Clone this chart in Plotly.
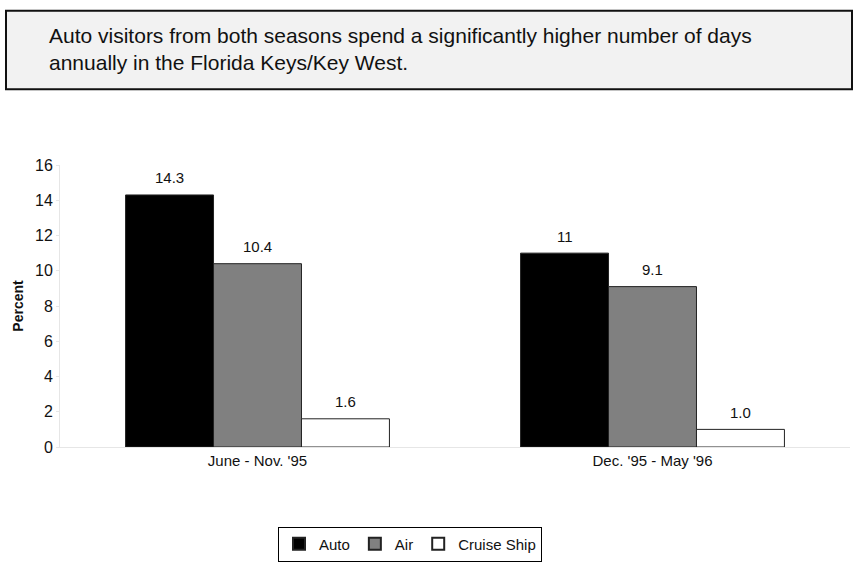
import plotly.graph_objects as go

categories = ["June - Nov. '95", "Dec. '95 - May '96"]
series_names = ["Auto", "Air", "Cruise Ship"]
auto_vals = [14.3, 11.0]
air_vals = [10.4, 9.1]
cruise_vals = [1.6, 1.0]
auto_labels = ["14.3", "11"]
air_labels = ["10.4", "9.1"]
cruise_labels = ["1.6", "1.0"]
y_ticks = [0, 2, 4, 6, 8, 10, 12, 14, 16]

colors = ["#000000", "#808080", "#ffffff"]
W, H = 854, 565
L, R, T, B = 60, 4, 165, 113
pw, ph = W - L - R, H - T - B
BARGAP = 0.332

def px_x(x):
    return (x - L) / pw

def px_y(y):
    return (H - B - y) / ph

all_vals = [auto_vals, air_vals, cruise_vals]
all_labels = [auto_labels, air_labels, cruise_labels]

fig = go.Figure()
for name, vals, c in zip(series_names, all_vals, colors):
    fig.add_trace(go.Bar(
        name=name, x=categories, y=vals,
        marker=dict(color=c, line=dict(color="#222222", width=1)),
    ))

annotations = []
bw = (1 - BARGAP) / len(series_names)
for i, (vals, labels) in enumerate(zip(all_vals, all_labels)):
    for j, (v, t) in enumerate(zip(vals, labels)):
        annotations.append(dict(
            xref="x", yref="y", x=j + (i - 1) * bw, y=v, text=t,
            showarrow=False, yshift=17, yanchor="middle", xanchor="center",
            font=dict(size=15, color="#111111")))

annotations.append(dict(
    xref="paper", yref="paper", x=px_x(47), y=px_y(47),
    xanchor="left", yanchor="middle", align="left", showarrow=False,
    text="Auto visitors from both seasons spend a significantly higher number of days<br>annually in the Florida Keys/Key West.",
    font=dict(size=21, color="#111111")))

fig.update_layout(
    width=W, height=H,
    margin=dict(l=L, r=R, t=T, b=B),
    paper_bgcolor="white", plot_bgcolor="white",
    font=dict(family="Liberation Sans, Arial, sans-serif", size=15, color="#111111"),
    barmode="group", bargap=BARGAP, bargroupgap=0,
    showlegend=True,
    legend=dict(orientation="h", x=px_x(410), xanchor="center", y=px_y(533), yanchor="top",
                bordercolor="#000000", borderwidth=1, font=dict(size=15),
                itemsizing="constant", traceorder="normal", itemwidth=30,
                tracegroupgap=0),
    xaxis=dict(showline=True, linecolor="#e6e6e6", linewidth=1, showgrid=False,
               ticks="", tickfont=dict(size=15), range=[-0.5, 1.5]),
    yaxis=dict(range=[0, 16], tickvals=y_ticks, showgrid=False, zeroline=False,
               showline=True, linecolor="#e6e6e6", linewidth=1,
               ticks="outside", ticklen=3, tickcolor="#e6e6e6",
               tickfont=dict(size=16),
               title=dict(text="<b>Percent</b>", font=dict(size=14), standoff=8)),
    shapes=[dict(type="rect", xref="paper", yref="paper",
                 x0=px_x(6), x1=px_x(852), y0=px_y(88), y1=px_y(8),
                 fillcolor="#f2f2f2", line=dict(color="#111111", width=2), layer="below")],
    annotations=annotations,
)

fig.write_html("out.html")
